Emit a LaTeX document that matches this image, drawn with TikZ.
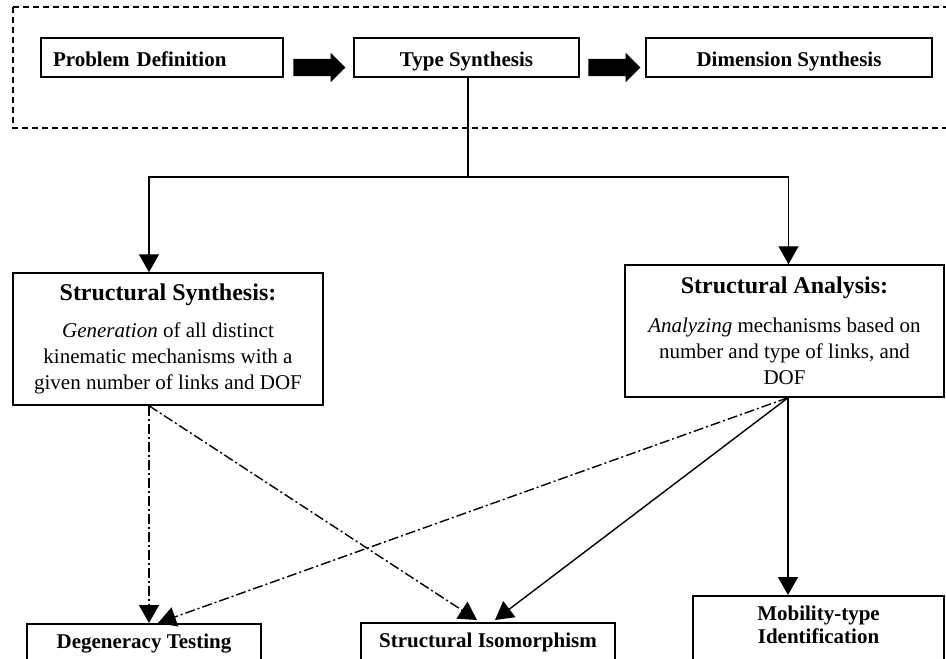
\documentclass[tikz,border=0pt]{standalone}
\usepackage{fontspec}
\setmainfont{Liberation Serif}
\usetikzlibrary{arrows.meta,shapes.arrows}
\newcommand{\blockhead}[1]{{\fontsize{24}{28}\selectfont\bfseries #1}}

\begin{document}
\begin{tikzpicture}[x=1pt,y=1pt]
	\tikzstyle{every node}+=[inner sep=0pt]
	\tikzstyle{stage}=[draw=black, line width=1.5pt, minimum height=39pt, text height=20pt, text depth=2pt, font=\bfseries\fontsize{21}{25}\selectfont]
	\tikzstyle{block}=[draw=black, line width=1.5pt, minimum height=132pt, align=center, font=\fontsize{21}{26}\selectfont]
	\tikzstyle{task}=[draw=black, line width=1.5pt, anchor=north, inner ysep=10pt, text depth=30pt, align=center, font=\bfseries\fontsize{21}{23}\selectfont]
	\tikzstyle{fat}=[single arrow, fill=black, inner ysep=8.5pt, minimum height=52pt, single arrow head extend=6pt, single arrow head indent=0pt]
	\tikzstyle{flow}=[black, line width=1.4pt]
	\tikzstyle{tip}=[-{Triangle[length=18pt,width=20pt]}]
	\tikzstyle{dashdot}=[dash pattern=on 10pt off 3pt on 2pt off 3pt]
	\useasboundingbox (0,0) rectangle (946,-659);
	% design stages
	\draw [black, line width=1.5pt, dash pattern=on 6pt off 4pt] (13,-7) rectangle (990,-128);
	\node [stage, minimum width=242pt, text width=218pt, inner xsep=12pt, align=left] (pd) at (162,-57.5) {Problem Definition};
	\node [stage, minimum width=225pt] (ts) at (466.5,-57.5) {Type Synthesis};
	\node [stage, minimum width=286pt] (ds) at (789,-57.5) {Dimension Synthesis};
	\node [fat] (a1) at (315,-67.5) {};
	\node [fat] (a2) at (610,-67.5) {};
	% structural synthesis and analysis
	\node [block, minimum width=310pt] (ss) at (168,-339) {\blockhead{Structural Synthesis:}\\[11pt]\textit{Generation} of all distinct\\kinematic mechanisms with a\\given number of links and DOF};
	\node [block, minimum width=319pt] (sa) at (784.5,-331) {\blockhead{Structural Analysis:}\\[13pt]\textit{Analyzing} mechanisms based on\\number and type of links, and\\DOF};
	\coordinate (fork) at (468,-177);
	\draw [flow] (ts.south -| fork) -- (fork);
	\draw [flow, tip] (fork) -| ([xshift=-19pt]ss.north);
	\draw [flow, tip] (fork) -| ([xshift=4pt]sa.north);
	% tasks
	\node [task, minimum width=234pt, text height=15pt] (dt) at (144,-623) {Degeneracy Testing};
	\node [task, minimum width=254pt, text height=15pt] (si) at (488,-622) {Structural Isomorphism};
	\node [task, minimum width=251pt] (mi) at (818.5,-595) {Mobility-type\\Identification};
	\draw [flow, dashdot, tip] ([xshift=-19pt]ss.south) -- ([xshift=5pt]dt.north);
	\draw [flow, dashdot, tip] ([xshift=-19pt]ss.south) -- ([xshift=-11pt,yshift=2pt]si.north);
	\draw [flow, dashdot, tip] ([xshift=3.5pt]sa.south) -- ([xshift=14pt]dt.north);
	\draw [flow, tip] ([xshift=3.5pt]sa.south) -- ([xshift=7pt,yshift=2pt]si.north);
	\draw [flow, tip] ([xshift=3.5pt]sa.south) -- ([xshift=-30.5pt]mi.north);
\end{tikzpicture}
\end{document}
